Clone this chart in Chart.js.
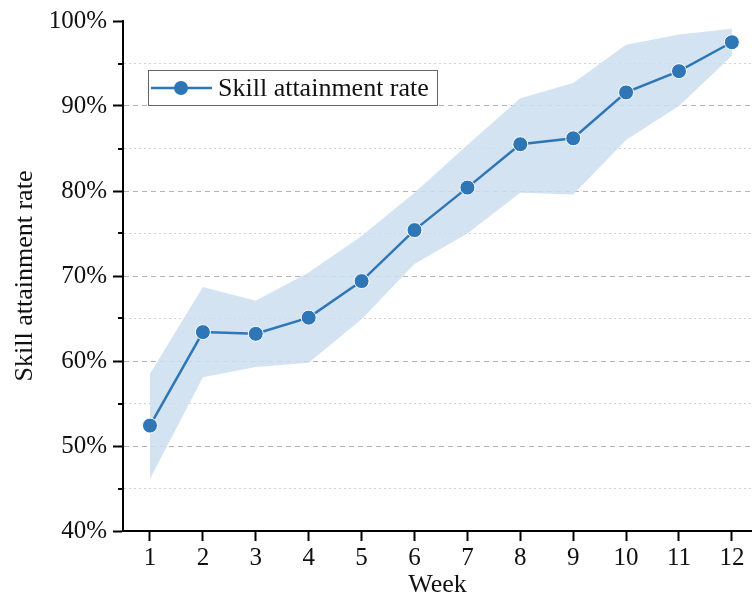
<!DOCTYPE html>
<html>
<head>
<meta charset="utf-8">
<script src="https://cdn.jsdelivr.net/npm/chart.js@4/dist/chart.umd.min.js"></script>
<style>
    html, body { margin: 0; padding: 0; background: #ffffff; }
    #wrap { width: 752px; height: 601px; }
</style>
</head>
<body>
<div id="wrap"><canvas id="skillChart" width="752" height="601"></canvas></div>
<script>
// Datos
const weeks = [1, 2, 3, 4, 5, 6, 7, 8, 9, 10, 11, 12];
const skillRate = [52.4, 63.4, 63.2, 65.1, 69.4, 75.4, 80.4, 85.5, 86.2, 91.6, 94.1, 97.5];
const rateUpper = [58.5, 68.7, 67.1, 70.4, 74.7, 79.8, 85.4, 90.9, 92.7, 97.2, 98.4, 99.1];
const rateLower = [46.1, 58.1, 59.3, 59.8, 64.9, 71.4, 75.0, 79.8, 79.6, 86.0, 90.0, 95.9];
const yTicks = [40, 45, 50, 55, 60, 65, 70, 75, 80, 85, 90, 95, 100];
const seriesLabel = 'Skill attainment rate';

const LINE = '#2f76b6';
const BAND = 'rgba(205,222,239,0.85)';
const FONT = "'Liberation Serif', 'Times New Roman', serif";

const toPoints = (arr) => arr.map((v, i) => ({ x: weeks[i], y: v }));
const isMajor = (v) => v % 10 === 0;

// Ticks menores (5%) más cortos, y leyenda con recuadro dentro del área
const extrasPlugin = {
    id: 'extras',
    afterDraw(chart) {
        const { ctx, scales: { y }, chartArea } = chart;
        ctx.save();
        ctx.strokeStyle = '#000';
        ctx.lineWidth = 2;
        yTicks.filter(v => !isMajor(v)).forEach(v => {
            const py = Math.round(y.getPixelForValue(v));
            ctx.beginPath();
            ctx.moveTo(chartArea.left - 5, py);
            ctx.lineTo(chartArea.left, py);
            ctx.stroke();
        });

        // leyenda
        const bx = chartArea.left + 25, by = chartArea.top + 49, bw = 289, bh = 35;
        ctx.fillStyle = '#fff';
        ctx.fillRect(bx, by, bw, bh);
        ctx.strokeStyle = '#666';
        ctx.lineWidth = 1;
        ctx.strokeRect(bx + 0.5, by + 0.5, bw, bh);
        const cy = by + bh / 2 + 0.5;
        ctx.strokeStyle = LINE;
        ctx.lineWidth = 2.5;
        ctx.beginPath();
        ctx.moveTo(bx + 3, cy);
        ctx.lineTo(bx + 64, cy);
        ctx.stroke();
        ctx.fillStyle = LINE;
        ctx.beginPath();
        ctx.arc(bx + 33, cy, 7, 0, Math.PI * 2);
        ctx.fill();
        ctx.fillStyle = '#111';
        ctx.font = '26px ' + FONT;
        ctx.textBaseline = 'middle';
        ctx.textAlign = 'left';
        ctx.fillText(chart.data.datasets[0].label, bx + 70, cy + 1);
        ctx.restore();
    }
};

document.addEventListener('DOMContentLoaded', () => {
    const canvas = document.getElementById('skillChart');
    if (!canvas || typeof window.Chart === 'undefined') return;

    new Chart(canvas.getContext('2d'), {
        type: 'line',
        data: {
            datasets: [
                {
                    label: seriesLabel,
                    data: toPoints(skillRate),
                    borderColor: LINE,
                    backgroundColor: LINE,
                    borderWidth: 2.5,
                    pointRadius: 7.5,
                    pointBorderColor: '#ffffff',
                    pointBorderWidth: 1,
                    fill: false,
                    tension: 0,
                    order: 0
                },
                {
                    label: 'upper',
                    data: toPoints(rateUpper),
                    borderWidth: 0,
                    borderColor: 'rgba(0,0,0,0)',
                    backgroundColor: BAND,
                    pointRadius: 0,
                    fill: '+1',
                    tension: 0,
                    order: 1
                },
                {
                    label: 'lower',
                    data: toPoints(rateLower),
                    borderWidth: 0,
                    borderColor: 'rgba(0,0,0,0)',
                    pointRadius: 0,
                    fill: false,
                    tension: 0,
                    order: 2
                }
            ]
        },
        options: {
            responsive: false,
            animation: false,
            layout: { autoPadding: false, padding: { top: 19, right: 0, left: 0, bottom: 0 } },
            plugins: {
                legend: { display: false },
                tooltip: { enabled: false }
            },
            scales: {
                x: {
                    type: 'linear',
                    min: 0.49,
                    max: 12.38,
                    afterBuildTicks: (s) => { s.ticks = weeks.map(v => ({ value: v })); },
                    afterFit: (s) => {
                        s.height = 70;
                        s.paddingLeft = 0;
                        s.paddingRight = 0;
                    },
                    grid: {
                        drawOnChartArea: false,
                        drawTicks: true,
                        tickLength: 10,
                        tickColor: '#000',
                        tickWidth: 2
                    },
                    border: { color: '#000', width: 2 },
                    ticks: {
                        color: '#111',
                        padding: 2,
                        autoSkip: false,
                        maxRotation: 0,
                        font: { family: FONT, size: 25 },
                        callback: (v) => String(v)
                    },
                    title: {
                        display: true,
                        text: 'Week',
                        color: '#111',
                        padding: { top: 0, bottom: 0 },
                        font: { family: FONT, size: 26 }
                    }
                },
                y: {
                    min: 40,
                    max: 100,
                    afterBuildTicks: (s) => { s.ticks = yTicks.map(v => ({ value: v })); },
                    afterFit: (s) => { s.width = 123; },
                    grid: {
                        color: (c) => {
                            const v = c.tick && c.tick.value;
                            if (v === 40 || v === 100) return 'rgba(0,0,0,0)';
                            return isMajor(v) ? '#b4b4b4' : '#d2d2d2';
                        },
                        lineWidth: 1,
                        tickLength: 10,
                        tickWidth: 2,
                        tickColor: (c) => (c.tick && isMajor(c.tick.value)) ? '#000' : 'rgba(0,0,0,0)'
                    },
                    border: {
                        color: '#000',
                        width: 2,
                        dash: (c) => (c.tick && isMajor(c.tick.value)) ? [5, 4] : [2, 3]
                    },
                    ticks: {
                        color: '#111',
                        padding: 6,
                        autoSkip: false,
                        font: { family: FONT, size: 25 },
                        callback: (v) => isMajor(v) ? v + '%' : ''
                    },
                    title: {
                        display: true,
                        text: seriesLabel,
                        color: '#111',
                        padding: { top: 10, bottom: 0 },
                        font: { family: FONT, size: 26 }
                    }
                }
            }
        },
        plugins: [extrasPlugin]
    });
});
</script>
</body>
</html>
